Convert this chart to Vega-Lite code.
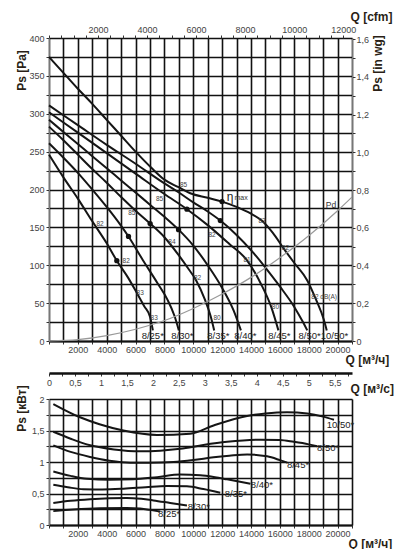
{
"$schema": "https://vega.github.io/schema/vega-lite/v6.json",
"background": "white",
"padding": {"left": 15, "top": 10, "right": 0, "bottom": 0},
"spacing": 58,
"bounds": "flush",
"config": {
  "view": {"stroke": null},
  "font": "Liberation Sans",
  "axis": {"labelFont": "Liberation Sans Narrow, Liberation Sans", "labelFontSize": 9, "labelColor": "#444", "titleFont": "Liberation Sans", "titleFontSize": 12, "titleFontWeight": "bold", "titleColor": "#2a1f16", "labelOverlap": false, "labelFlush": false, "tickColor": "#333", "domainColor": "#333", "gridColor": "#111", "gridWidth": 1.6, "gridOpacity": 1}
},
"datasets": {
  "fan": [
    {"m":"8/25","q":0,"p":246},{"m":"8/25","q":1000,"p":216},{"m":"8/25","q":2000,"p":188},{"m":"8/25","q":3000,"p":158},{"m":"8/25","q":4000,"p":129},{"m":"8/25","q":4700,"p":106},{"m":"8/25","q":5500,"p":83},{"m":"8/25","q":6100,"p":63},{"m":"8/25","q":6600,"p":46},{"m":"8/25","q":7000,"p":32},{"m":"8/25","q":7200,"p":14},
    {"m":"8/30","q":0,"p":261},{"m":"8/30","q":1000,"p":242},{"m":"8/30","q":2000,"p":222},{"m":"8/30","q":3000,"p":200},{"m":"8/30","q":4000,"p":177},{"m":"8/30","q":5000,"p":152},{"m":"8/30","q":5510,"p":138},{"m":"8/30","q":6500,"p":107},{"m":"8/30","q":7500,"p":77},{"m":"8/30","q":8200,"p":55},{"m":"8/30","q":8700,"p":33},{"m":"8/30","q":9000,"p":14},
    {"m":"8/35","q":0,"p":283},{"m":"8/35","q":1000,"p":265},{"m":"8/35","q":2000,"p":246},{"m":"8/35","q":3000,"p":227},{"m":"8/35","q":4000,"p":209},{"m":"8/35","q":5000,"p":190},{"m":"8/35","q":6000,"p":172},{"m":"8/35","q":7010,"p":155},{"m":"8/35","q":8000,"p":137},{"m":"8/35","q":9000,"p":113},{"m":"8/35","q":9600,"p":97},{"m":"8/35","q":10200,"p":80},{"m":"8/35","q":10800,"p":55},{"m":"8/35","q":11200,"p":33},{"m":"8/35","q":11450,"p":14},
    {"m":"8/40","q":0,"p":292},{"m":"8/40","q":1000,"p":276},{"m":"8/40","q":2000,"p":260},{"m":"8/40","q":3000,"p":244},{"m":"8/40","q":4000,"p":228},{"m":"8/40","q":5000,"p":212},{"m":"8/40","q":6000,"p":196},{"m":"8/40","q":7000,"p":180},{"m":"8/40","q":8000,"p":164},{"m":"8/40","q":8980,"p":147},{"m":"8/40","q":10000,"p":126},{"m":"8/40","q":11000,"p":100},{"m":"8/40","q":12000,"p":70},{"m":"8/40","q":12800,"p":40},{"m":"8/40","q":13300,"p":14},
    {"m":"8/45","q":0,"p":302},{"m":"8/45","q":2000,"p":275},{"m":"8/45","q":4000,"p":248},{"m":"8/45","q":6000,"p":221},{"m":"8/45","q":8000,"p":194},{"m":"8/45","q":9560,"p":174},{"m":"8/45","q":11000,"p":153},{"m":"8/45","q":12500,"p":128},{"m":"8/45","q":13700,"p":107},{"m":"8/45","q":14700,"p":75},{"m":"8/45","q":15400,"p":45},{"m":"8/45","q":15900,"p":14},
    {"m":"8/50","q":0,"p":311},{"m":"8/50","q":2000,"p":285},{"m":"8/50","q":4000,"p":259},{"m":"8/50","q":6000,"p":234},{"m":"8/50","q":8000,"p":208},{"m":"8/50","q":9000,"p":196},{"m":"8/50","q":10000,"p":183},{"m":"8/50","q":11000,"p":171},{"m":"8/50","q":11875,"p":159},{"m":"8/50","q":13000,"p":140},{"m":"8/50","q":14000,"p":120},{"m":"8/50","q":15000,"p":97},{"m":"8/50","q":16000,"p":72},{"m":"8/50","q":17000,"p":45},{"m":"8/50","q":17600,"p":25},{"m":"8/50","q":17900,"p":14},
    {"m":"10/50","q":0,"p":375},{"m":"10/50","q":1000,"p":354},{"m":"10/50","q":2000,"p":333},{"m":"10/50","q":3000,"p":313},{"m":"10/50","q":4000,"p":292},{"m":"10/50","q":5000,"p":271},{"m":"10/50","q":6000,"p":250},{"m":"10/50","q":7130,"p":228},{"m":"10/50","q":8000,"p":213},{"m":"10/50","q":8980,"p":203},{"m":"10/50","q":9790,"p":195},{"m":"10/50","q":11000,"p":189},{"m":"10/50","q":11990,"p":184},{"m":"10/50","q":13000,"p":177},{"m":"10/50","q":14000,"p":168},{"m":"10/50","q":14800,"p":158},{"m":"10/50","q":15500,"p":143},{"m":"10/50","q":16270,"p":122},{"m":"10/50","q":17000,"p":103},{"m":"10/50","q":17900,"p":80},{"m":"10/50","q":18500,"p":55},{"m":"10/50","q":19050,"p":28},{"m":"10/50","q":19250,"p":14}
  ],
  "pd": [
    {"q":0,"p":0},{"q":2000,"p":1.7},{"q":4000,"p":7},{"q":6000,"p":15.5},{"q":8000,"p":27},{"q":10000,"p":43},{"q":12000,"p":62},{"q":14000,"p":84},{"q":16000,"p":110},{"q":18000,"p":139},{"q":20000,"p":172},{"q":21000,"p":190}
  ],
  "dots": [
    {"q":4700,"p":106},{"q":5510,"p":138},{"q":7010,"p":155},{"q":8980,"p":147},{"q":9560,"p":174},{"q":11875,"p":159},{"q":11990,"p":184}
  ],
  "db": [
    {"t":"82","q":3540,"p":155},{"t":"82","q":5350,"p":105},{"t":"83","q":6320,"p":63},{"t":"83","q":7290,"p":31},
    {"t":"85","q":5740,"p":169},{"t":"84","q":8520,"p":131},{"t":"82","q":10300,"p":83},{"t":"80","q":11650,"p":31},
    {"t":"85","q":7660,"p":187},{"t":"85","q":9330,"p":206},{"t":"82","q":11300,"p":140},{"t":"81","q":13730,"p":107},
    {"t":"80","q":15690,"p":45},{"t":"82","q":16390,"p":123},{"t":"83","q":14770,"p":159},{"t":"82 dB(A)","q":19070,"p":58}
  ],
  "models": [
    {"t":"8/25*","q":7190,"p":7},{"t":"8/30*","q":9240,"p":7},{"t":"8/35*","q":11740,"p":7},{"t":"8/40*","q":13610,"p":7},{"t":"8/45*","q":15970,"p":7},{"t":"8/50*","q":18060,"p":7},{"t":"10/50*","q":19790,"p":7}
  ],
  "power": [
    {"m":"10/50","q":300,"p":1.92},{"m":"10/50","q":2150,"p":1.71},{"m":"10/50","q":3500,"p":1.6},{"m":"10/50","q":5160,"p":1.5},{"m":"10/50","q":7480,"p":1.43},{"m":"10/50","q":9790,"p":1.45},{"m":"10/50","q":11410,"p":1.58},{"m":"10/50","q":13730,"p":1.73},{"m":"10/50","q":15000,"p":1.77},{"m":"10/50","q":16500,"p":1.79},{"m":"10/50","q":17900,"p":1.77},{"m":"10/50","q":19000,"p":1.72},{"m":"10/50","q":19750,"p":1.67},
    {"m":"8/50","q":300,"p":1.48},{"m":"8/50","q":1500,"p":1.37},{"m":"8/50","q":2850,"p":1.265},{"m":"8/50","q":4500,"p":1.2},{"m":"8/50","q":6320,"p":1.17},{"m":"8/50","q":7700,"p":1.18},{"m":"8/50","q":9100,"p":1.21},{"m":"8/50","q":10700,"p":1.27},{"m":"8/50","q":12340,"p":1.32},{"m":"8/50","q":14650,"p":1.355},{"m":"8/50","q":16000,"p":1.35},{"m":"8/50","q":16970,"p":1.32},{"m":"8/50","q":18000,"p":1.28},{"m":"8/50","q":18590,"p":1.25},
    {"m":"8/45","q":300,"p":1.265},{"m":"8/45","q":1500,"p":1.16},{"m":"8/45","q":2850,"p":1.08},{"m":"8/45","q":4200,"p":1.02},{"m":"8/45","q":5620,"p":0.99},{"m":"8/45","q":7000,"p":0.99},{"m":"8/45","q":8630,"p":1.0},{"m":"8/45","q":10000,"p":1.03},{"m":"8/45","q":11410,"p":1.075},{"m":"8/45","q":12500,"p":1.1},{"m":"8/45","q":13730,"p":1.12},{"m":"8/45","q":15120,"p":1.09},{"m":"8/45","q":16000,"p":1.03},{"m":"8/45","q":16510,"p":0.99},
    {"m":"8/40","q":300,"p":0.85},{"m":"8/40","q":1500,"p":0.78},{"m":"8/40","q":2620,"p":0.735},{"m":"8/40","q":4200,"p":0.72},{"m":"8/40","q":5850,"p":0.725},{"m":"8/40","q":7500,"p":0.76},{"m":"8/40","q":9100,"p":0.8},{"m":"8/40","q":10490,"p":0.79},{"m":"8/40","q":11500,"p":0.76},{"m":"8/40","q":12340,"p":0.725},{"m":"8/40","q":13960,"p":0.655},
    {"m":"8/35","q":300,"p":0.64},{"m":"8/35","q":1300,"p":0.6},{"m":"8/35","q":2380,"p":0.567},{"m":"8/35","q":3700,"p":0.565},{"m":"8/35","q":5160,"p":0.577},{"m":"8/35","q":6700,"p":0.6},{"m":"8/35","q":8170,"p":0.62},{"m":"8/35","q":9560,"p":0.614},{"m":"8/35","q":10700,"p":0.57},{"m":"8/35","q":11870,"p":0.513},
    {"m":"8/30","q":300,"p":0.35},{"m":"8/30","q":1500,"p":0.385},{"m":"8/30","q":2850,"p":0.41},{"m":"8/30","q":4200,"p":0.425},{"m":"8/30","q":5390,"p":0.43},{"m":"8/30","q":6400,"p":0.415},{"m":"8/30","q":7240,"p":0.39},{"m":"8/30","q":8400,"p":0.35},{"m":"8/30","q":9560,"p":0.31},
    {"m":"8/25","q":300,"p":0.22},{"m":"8/25","q":1700,"p":0.245},{"m":"8/25","q":3540,"p":0.265},{"m":"8/25","q":5390,"p":0.27},{"m":"8/25","q":6320,"p":0.26},{"m":"8/25","q":7000,"p":0.24},{"m":"8/25","q":7710,"p":0.215}
  ],
  "pmodels": [
    {"t":"10/50*","q":20200,"p":1.58},{"t":"8/50*","q":19340,"p":1.22},{"t":"8/45*","q":17260,"p":0.957},{"t":"8/40*","q":14760,"p":0.63},{"t":"8/35*","q":12950,"p":0.497},{"t":"8/30*","q":10380,"p":0.286},{"t":"8/25*","q":8330,"p":0.18}
  ]
},
"vconcat": [
  {
    "width": 303, "height": 303,
    "resolve": {"axis": {"x": "independent", "y": "independent"}},
    "layer": [
      {"data": {"name": "fan"}, "mark": {"type": "line", "interpolate": "monotone", "color": "#151515", "strokeWidth": 2},
        "encoding": {
          "x": {"field": "q", "type": "quantitative", "scale": {"domain": [0, 21000], "nice": false, "zero": false},
            "axis": {"orient": "bottom", "values": [0,1000,2000,3000,4000,5000,6000,7000,8000,9000,10000,11000,12000,13000,14000,15000,16000,17000,18000,19000,20000,21000],
              "labelExpr": "datum.value % 2000 == 0 && datum.value > 0 ? format(datum.value, 'd') : ''",
              "grid": true, "domainWidth": 2, "domainColor": "#111", "tickSize": 3, "labelPadding": 1,
              "title": "Q [м³/ч]", "titleX": 296, "titleY": 18, "titleAlign": "left", "titleBaseline": "middle", "titleAngle": 0}},
          "y": {"field": "p", "type": "quantitative", "scale": {"domain": [0, 400], "nice": false, "zero": false},
            "axis": {"orient": "left", "values": [0,25,50,75,100,125,150,175,200,225,250,275,300,325,350,375,400],
              "labelExpr": "datum.value % 50 == 0 ? format(datum.value, 'd') : ''",
              "grid": true, "domainColor": "#777", "tickSize": 3, "labelPadding": 2,
              "title": "Ps [Pa]", "titleX": -28, "titleY": 32, "titleAngle": 270, "titleAlign": "center", "titleBaseline": "middle"}},
          "detail": {"field": "m"}
        }
      },
      {"data": {"name": "pd"}, "mark": {"type": "line", "interpolate": "monotone", "color": "#999", "strokeWidth": 1.2},
        "encoding": {
          "x": {"field": "q", "type": "quantitative", "scale": {"domain": [0, 21000], "nice": false, "zero": false},
            "axis": {"orient": "top", "values": [0,849.505,1699.01,2548.515,3398.02,4247.525,5097.03,5946.535,6796.04,7645.545,8495.05,9344.555,10194.06,11043.565,11893.07,12742.575,13592.08,14441.585,15291.09,16140.595,16990.1,17839.605,18689.11,19538.615,20388.12],
              "labelExpr": "(round(datum.value/1.69901) % 2000 == 0 && datum.value > 0) ? format(round(datum.value/1.69901), 'd') : ''",
              "grid": false, "domain": false, "tickSize": 3, "labelPadding": 1,
              "title": "Q [cfm]", "titleX": 301, "titleY": -22, "titleAlign": "left", "titleBaseline": "middle"}},
          "y": {"field": "p", "type": "quantitative", "scale": {"domain": [0, 400], "nice": false, "zero": false},
            "axis": {"orient": "right", "values": [0,24.909,49.818,74.727,99.636,124.545,149.454,174.363,199.272,224.181,249.09,273.999,298.908,323.817,348.726,373.635,398.544],
              "labelExpr": "round(datum.value/24.909) % 2 == 0 ? (datum.value == 0 ? '0' : replace(format(datum.value/249.09, '.1f'), '.', ',')) : ''",
              "grid": false, "domainColor": "#777", "tickSize": 3, "labelPadding": 1,
              "title": "Ps [in wg]", "titleX": 25, "titleY": 25, "titleAngle": 270, "titleAlign": "center", "titleBaseline": "middle"}}
        }
      },
      {"data": {"name": "dots"}, "mark": {"type": "point", "filled": true, "color": "#111", "size": 28, "opacity": 1},
        "encoding": {
          "x": {"field": "q", "type": "quantitative", "scale": {"domain": [0, 21000], "nice": false, "zero": false},
            "axis": {"orient": "bottom", "offset": 32, "values": [0,900,1800,2700,3600,4500,5400,6300,7200,8100,9000,9900,10800,11700,12600,13500,14400,15300,16200,17100,18000,18900,19800,20700],
              "labelExpr": "round(datum.value/900) % 2 == 0 ? replace(format(datum.value/3600, '.1~f'), '.', ',') : ''",
              "grid": false, "domainWidth": 2.5, "domainColor": "#111", "tickSize": 3, "labelPadding": 2,
              "title": "Q [м³/с]", "titleX": 301, "titleY": 15, "titleAlign": "left", "titleBaseline": "middle"}},
          "y": {"field": "p", "type": "quantitative", "scale": {"domain": [0, 400], "nice": false, "zero": false}, "axis": null}
        }
      },
      {"data": {"name": "db"}, "mark": {"type": "text", "fontSize": 6.5, "color": "#444", "font": "Liberation Sans Narrow, Liberation Sans", "baseline": "middle"},
        "encoding": {"x": {"field": "q", "type": "quantitative", "scale": {"domain": [0, 21000], "nice": false, "zero": false}, "axis": null}, "y": {"field": "p", "type": "quantitative", "scale": {"domain": [0, 400], "nice": false, "zero": false}, "axis": null}, "text": {"field": "t"}}},
      {"data": {"name": "models"}, "mark": {"type": "text", "fontSize": 9.5, "color": "#222", "font": "Liberation Sans Narrow, Liberation Sans", "baseline": "middle"},
        "encoding": {"x": {"field": "q", "type": "quantitative", "scale": {"domain": [0, 21000], "nice": false, "zero": false}, "axis": null}, "y": {"field": "p", "type": "quantitative", "scale": {"domain": [0, 400], "nice": false, "zero": false}, "axis": null}, "text": {"field": "t"}}},
      {"data": {"values": [{"t": "η", "q": 12550, "p": 190}]}, "mark": {"type": "text", "fontSize": 12, "color": "#222", "baseline": "middle"},
        "encoding": {"x": {"field": "q", "type": "quantitative", "scale": {"domain": [0, 21000], "nice": false, "zero": false}, "axis": null}, "y": {"field": "p", "type": "quantitative", "scale": {"domain": [0, 400], "nice": false, "zero": false}, "axis": null}, "text": {"field": "t"}}},
      {"data": {"values": [{"t": "max", "q": 12850, "p": 189}]}, "mark": {"type": "text", "fontSize": 7, "color": "#333", "align": "left", "baseline": "middle"},
        "encoding": {"x": {"field": "q", "type": "quantitative", "scale": {"domain": [0, 21000], "nice": false, "zero": false}, "axis": null}, "y": {"field": "p", "type": "quantitative", "scale": {"domain": [0, 400], "nice": false, "zero": false}, "axis": null}, "text": {"field": "t"}}},
      {"data": {"values": [{"t": "Pd", "q": 19540, "p": 180}]}, "mark": {"type": "text", "fontSize": 8.5, "color": "#333", "baseline": "middle"},
        "encoding": {"x": {"field": "q", "type": "quantitative", "scale": {"domain": [0, 21000], "nice": false, "zero": false}, "axis": null}, "y": {"field": "p", "type": "quantitative", "scale": {"domain": [0, 400], "nice": false, "zero": false}, "axis": null}, "text": {"field": "t"}}}
    ]
  },
  {
    "width": 303, "height": 126,
    "encoding": {
      "x": {"field": "q", "type": "quantitative", "scale": {"domain": [0, 21000], "nice": false, "zero": false},
        "axis": {"orient": "bottom", "values": [0,1000,2000,3000,4000,5000,6000,7000,8000,9000,10000,11000,12000,13000,14000,15000,16000,17000,18000,19000,20000,21000],
          "labelExpr": "datum.value % 2000 == 0 && datum.value > 0 ? format(datum.value, 'd') : ''",
          "grid": true, "domainWidth": 2, "domainColor": "#111", "tickSize": 3, "labelPadding": 1,
          "title": "Q [м³/ч]", "titleX": 299, "titleY": 18, "titleAlign": "left", "titleBaseline": "middle"}},
      "y": {"field": "p", "type": "quantitative", "scale": {"domain": [0, 2], "nice": false, "zero": false},
        "axis": {"orient": "left", "values": [0,0.25,0.5,0.75,1,1.25,1.5,1.75,2],
          "labelExpr": "abs(datum.value*2 - round(datum.value*2)) < 0.001 ? replace(format(datum.value, '.1~f'), '.', ',') : ''",
          "grid": true, "domainColor": "#777", "tickSize": 3, "labelPadding": 2,
          "title": "Ps [кВт]", "titleX": -28, "titleY": 9, "titleAngle": 270, "titleAlign": "center", "titleBaseline": "middle"}}
    },
    "layer": [
      {"data": {"name": "power"}, "mark": {"type": "line", "interpolate": "monotone", "color": "#151515", "strokeWidth": 2}, "encoding": {"detail": {"field": "m"}}},
      {"data": {"name": "pmodels"}, "mark": {"type": "text", "fontSize": 9.5, "color": "#222", "font": "Liberation Sans Narrow, Liberation Sans", "baseline": "middle"}, "encoding": {"text": {"field": "t"}}}
    ]
  }
]
}
